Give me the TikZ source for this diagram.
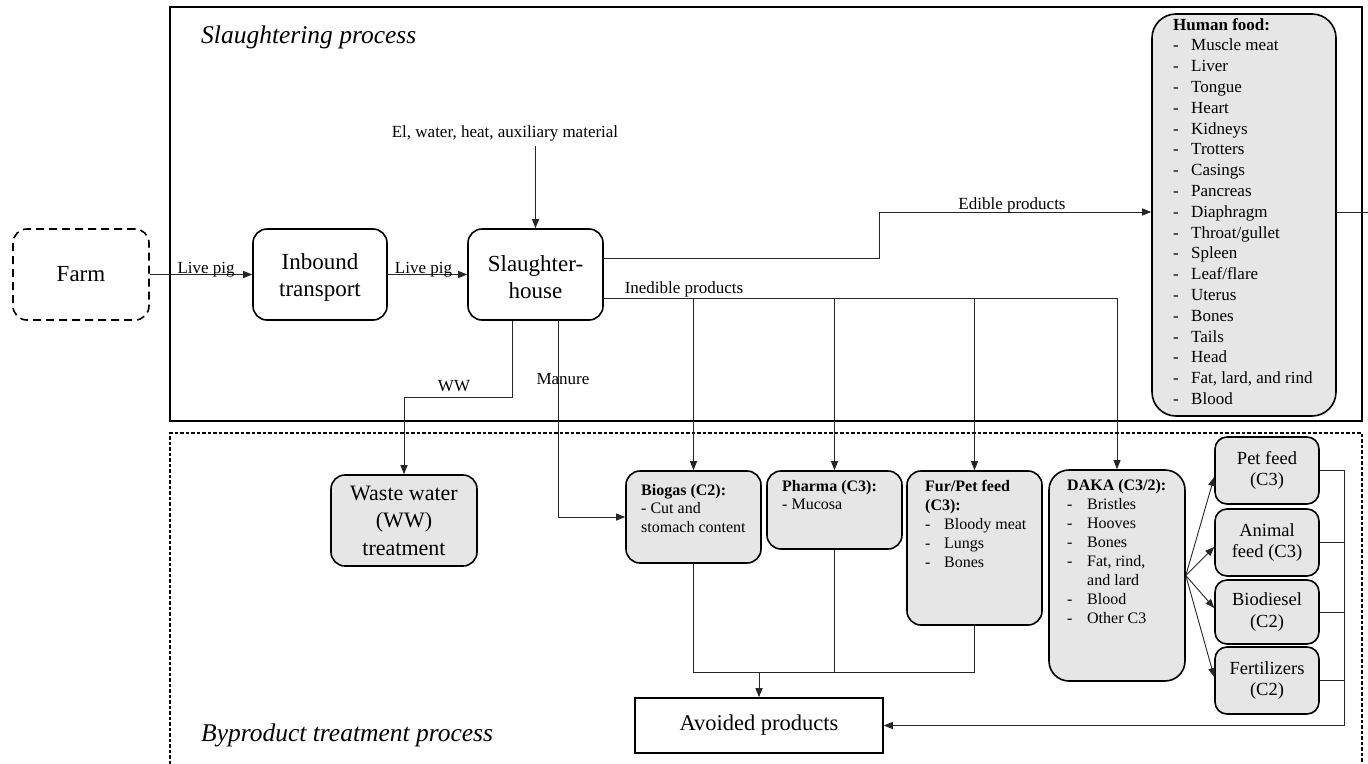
\documentclass[tikz,border=0pt]{standalone}
\usepackage{fontspec}
\setmainfont{Liberation Serif}
\usetikzlibrary{arrows.meta,calc}
\definecolor{boxgray}{RGB}{230,230,230}
\newcommand\hdA{\makebox[18pt][l]{-}}
\newcommand\hdB{\makebox[19pt][l]{-}}
\newcommand\hdC{\makebox[20pt][l]{-}}
\newcommand\topstrut{\rule{0pt}{22pt}}
\begin{document}
\begin{tikzpicture}[x=1pt,y=-1pt,
  box/.style={draw=black, line width=1.6pt, rounded corners=14pt, inner sep=0pt, align=center, font=\fontsize{23}{27}\selectfont},
  gbox/.style={box, fill=boxgray},
  smallbox/.style={gbox, minimum width=104pt, minimum height=67pt, rounded corners=12pt, font=\fontsize{18.5}{21.5}\selectfont},
  conn/.style={draw=black!85, line width=0.9pt},
  arr/.style={conn, -{Triangle[length=9pt,width=7pt]}},
  lbl/.style={font=\fontsize{17}{20}\selectfont, inner sep=0pt, anchor=base},
  ttl/.style={font=\fontsize{25.5}{30}\selectfont\itshape, inner sep=0pt, anchor=base west},
  lst/.style={inner sep=0pt, anchor=base west}
]
\useasboundingbox (0,0) rectangle (1368,763);

% frames
\draw[line width=1.6pt] (170,7) rectangle (1362,421);
\draw[line width=1.3pt, dash pattern=on 3.5pt off 2pt] (170,775) -- (170,433) -- (1362,433) -- (1362,775);
\node[ttl] (t1) at (201,43) {Slaughtering process};
\node[ttl] (t2) at (201,741) {Byproduct treatment process};

% main chain
\node[box, dash pattern=on 8pt off 5pt, minimum width=136pt, minimum height=91pt] (farm) at (81,274.5) {Farm};
\node[box, minimum width=134pt, minimum height=91pt] (inb) at (320,274.5) {\topstrut Inbound\\transport};
\node[box, minimum width=135pt, minimum height=91pt] (sl) at (535.5,274.5) {\topstrut Slaughter-\\house};

\draw[arr] (farm) -- node[lbl, pos=0.55, yshift=1pt] {Live pig} (inb);
\draw[arr] (inb) -- node[lbl, pos=0.45, yshift=1pt] {Live pig} (sl);

\node[lbl] (elab) at (505,137) {El, water, heat, auxiliary material};
\draw[arr] ($(sl.north |- elab.south)+(0,5)$) -- (sl.north);

% human food
\node[gbox, rounded corners=24pt, minimum width=184pt, minimum height=402pt] (hf) at (1244,215) {};
\node[lst] (hftext) at (1173,30) {\parbox[t]{160pt}{\raggedright\fontsize{17}{20.8}\selectfont
\textbf{Human food:}\\
\hdA Muscle meat\\
\hdA Liver\\
\hdA Tongue\\
\hdA Heart\\
\hdA Kidneys\\
\hdA Trotters\\
\hdA Casings\\
\hdA Pancreas\\
\hdA Diaphragm\\
\hdA Throat/gullet\\
\hdA Spleen\\
\hdA Leaf/flare\\
\hdA Uterus\\
\hdA Bones\\
\hdA Tails\\
\hdA Head\\
\hdA Fat, lard, and rind\\
\hdA Blood}};
\coordinate (hfout) at (1368,212);
\draw[conn] (hf.east |- hfout) -- (hfout);

\draw[arr] (sl.east |- 0,258) -- (879,258) |- (hf.west |- 0,212);
\node[lbl] (edl) at (1012,209) {Edible products};

% byproduct boxes
\node[gbox, minimum width=146pt, minimum height=91pt, font=\fontsize{22}{27.5}\selectfont] (ww) at (404,520.5) {Waste water\\(WW)\\treatment};
\node[gbox, minimum width=135pt, minimum height=92pt] (bio) at (693.5,517) {};
\node[gbox, minimum width=135pt, minimum height=78pt] (ph) at (834.5,510) {};
\node[gbox, minimum width=135pt, minimum height=154pt] (fur) at (974.5,548) {};
\node[gbox, rounded corners=20pt, minimum width=136pt, minimum height=211pt] (daka) at (1117,575.5) {};

\node[lst] (biot) at (641,495) {\parbox[t]{120pt}{\raggedright\fontsize{16}{18.5}\selectfont
\textbf{Biogas (C2):}\\
- Cut and\\
stomach content}};
\node[lst] (pht) at (782,491) {\parbox[t]{120pt}{\raggedright\fontsize{16}{18.5}\selectfont
\textbf{Pharma (C3):}\\
- Mucosa}};
\node[lst] (furt) at (925,491) {\parbox[t]{115pt}{\raggedright\fontsize{16}{19}\selectfont
\textbf{Fur/Pet feed}\\
\textbf{(C3):}\\
\hdB Bloody meat\\
\hdB Lungs\\
\hdB Bones}};
\node[lst] (dakat) at (1067,490) {\parbox[t]{115pt}{\raggedright\fontsize{16}{19}\selectfont
\textbf{DAKA (C3/2):}\\
\hdC Bristles\\
\hdC Hooves\\
\hdC Bones\\
\hdC Fat, rind,\\
\hspace*{20pt}and lard\\
\hdC Blood\\
\hdC Other C3}};

\node[smallbox] (pet) at (1267,470.5) {Pet feed\\(C3)};
\node[smallbox] (ani) at (1267,542.5) {Animal\\feed (C3)};
\node[smallbox, minimum height=64pt] (bdi) at (1267,612) {Biodiesel\\(C2)};
\node[smallbox] (fer) at (1267,680.5) {Fertilizers\\(C2)};

\node[draw=black, line width=1.6pt, minimum width=248pt, minimum height=55pt, inner sep=0pt, font=\fontsize{22.5}{27}\selectfont] (av) at (759,725.5) {Avoided products};

% inedible
\draw[arr] (sl.east |- 0,298) -- (daka.north |- 0,298) -- (daka.north);
\draw[arr] (bio.north |- 0,298) -- (bio.north);
\draw[arr] (ph.north |- 0,298) -- (ph.north);
\draw[arr] (fur.north |- 0,298) -- (fur.north);
\node[lbl] (inl) at (684,293) {Inedible products};

% WW and manure
\draw[arr] (sl.south -| 512,0) -- (512,397) -| (ww.north);
\node[lbl] (wwl) at (454,391) {WW};
\draw[arr] (sl.south -| 558,0) |- (bio.west);
\node[lbl] (manl) at (563,384) {Manure};

% DAKA fan
\draw[arr] (daka.east) -- ($(pet.west)+(0,6.5)$);
\draw[arr] (daka.east) -- ($(ani.west)+(0,4.5)$);
\draw[arr] (daka.east) -- ($(bdi.west)+(0,-4)$);
\draw[arr] (daka.east) -- ($(fer.west)+(0,-3.5)$);

% right collector
\draw[arr] (pet.east) -- (pet.east -| 1344,0) |- (av.east);
\draw[conn] (ani.east) -- (ani.east -| 1344,0);
\draw[conn] (bdi.east) -- (bdi.east -| 1344,0);
\draw[conn] (fer.east) -- (fer.east -| 1344,0);

% bottom collector
\draw[conn] (bio.south) |- (fur.south |- 0,672) -- (fur.south);
\draw[conn] (ph.south) -- (ph.south |- 0,672);
\draw[arr] (av.north |- 0,672) -- (av.north);
\end{tikzpicture}
\end{document}
